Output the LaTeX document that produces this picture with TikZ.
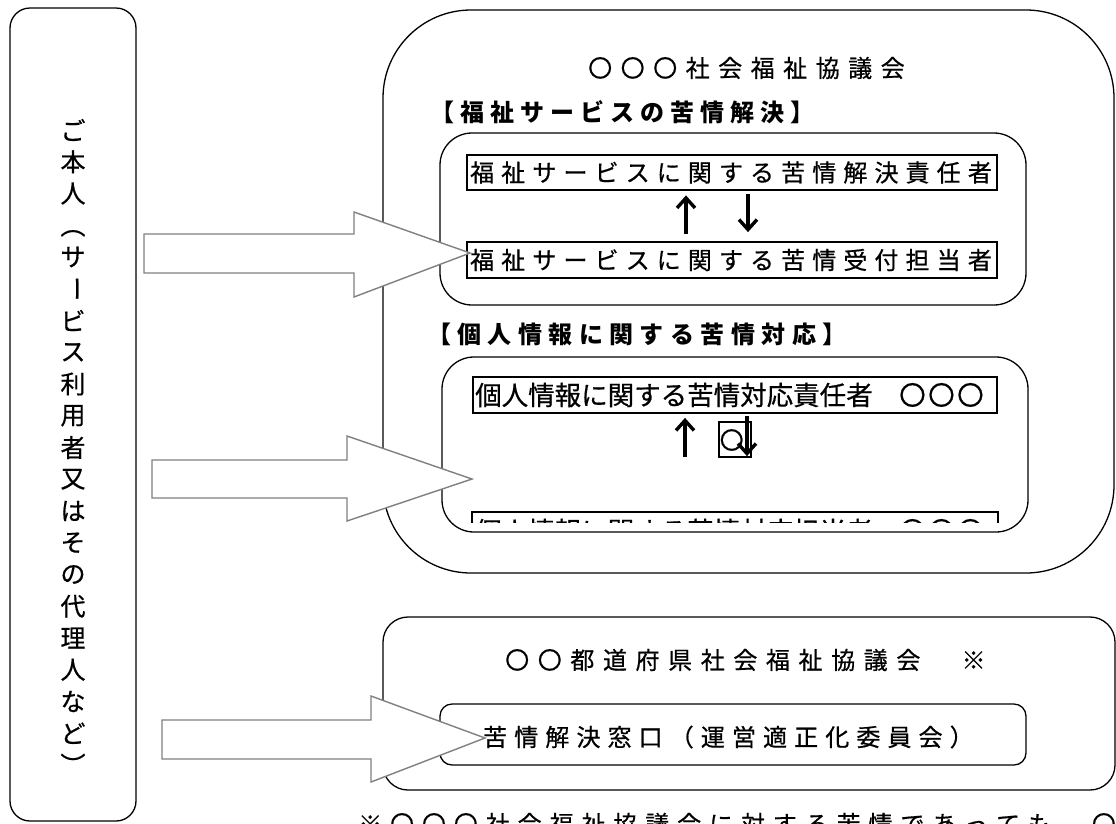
\documentclass[tikz,border=0pt]{standalone}
\usepackage{fontspec}
\usepackage{graphicx}
\usetikzlibrary{arrows.meta}
\newfontfamily\jp[FakeBold=0.6]{Noto Sans CJK JP}
\newfontfamily\jpb{Noto Sans CJK JP}
\definecolor{arrowgray}{RGB}{128,128,128}
\makeatletter
\newcommand\lsp[2]{\def\lsp@w{#1}\lsp@loop#2\@nil}
\def\lsp@loop#1{\ifx#1\@nil\else\makebox[\lsp@w][l]{#1}\expandafter\lsp@loop\fi}
\makeatother
\newcommand\jsz[1]{\jp\fontsize{#1}{#1}\selectfont}
\newcommand\jbsz[1]{\jpb\fontsize{#1}{#1}\selectfont\bfseries}
\begin{document}
\begin{tikzpicture}[x=1pt,y=-1pt,
  rbox/.style={draw, line width=1.3pt, inner sep=0pt},
  tbox/.style={draw, line width=1.8pt, inner sep=0pt},
  txt/.style={inner sep=0pt, anchor=west, text=black},
  vch/.style={inner sep=0pt, text=black},
  barrow/.style={draw=arrowgray, fill=white, line width=1.4pt, line join=miter},
  sarr/.style={line width=3.4pt, -{Straight Barb[length=10pt,width=18pt]}}
]
\useasboundingbox (0,0) rectangle (1116,823);
\fill[white] (0,0) rectangle (1116,823);

% left box
\node[rbox, rounded corners=20pt, minimum width=126pt, minimum height=813pt] (person) at (73,414.5) {};
\foreach \c/\r [count=\i from 0] in {ご/0,本/0,人/0,（/-90,サ/0,ー/-90,ビ/0,ス/0,利/0,用/0,者/0,又/0,は/0,そ/0,の/0,代/0,理/0,人/0,な/0,ど/0,）/-90}
  \node[vch, rotate=\r] (v\i) at (73,{130+31.75*\i}) {\jsz{25pt}\c};

% big box
\node[rbox, rounded corners=88pt, minimum width=731pt, minimum height=563pt] (big) at (748.5,291.5) {};
\node[rbox, rounded corners=32pt, minimum width=586pt, minimum height=172pt] (in1) at (733,219) {};
\node[rbox, rounded corners=32pt, minimum width=586pt, minimum height=175pt] (in2) at (735,444.5) {};
\node[tbox, minimum width=530pt, minimum height=35pt] (t1) at (732,172.5) {};
\node[tbox, minimum width=530pt, minimum height=36pt] (t2) at (732,260) {};
\node[tbox, minimum width=524pt, minimum height=36pt] (t3) at (735,395) {};
\node[tbox, line width=1.5pt, minimum width=32pt, minimum height=35pt] (small) at (735,439.5) {};
\begin{scope}
  \clip (440,500) rectangle (1010,522);
  \node[tbox, minimum width=526pt, minimum height=36pt] (t4) at (735,530) {};
  \node[txt] (l4) at (475,531) {\jsz{26.5pt}個人情報に関する苦情対応担当者　\lsp{29pt}{〇〇〇}};
\end{scope}

% prefecture box
\node[rbox, rounded corners=25pt, minimum width=732pt, minimum height=173pt] (pref) at (749,703.5) {};
\node[rbox, rounded corners=12pt, minimum width=586pt, minimum height=61pt] (window) at (733,734.5) {};

% block arrows
\draw[barrow] (144,234) -- (354,234) -- (354,212) -- (470,253) -- (354,297) -- (354,273) -- (144,273) -- cycle;
\draw[barrow] (152,460) -- (347,460) -- (347,436) -- (472,479) -- (347,521) -- (347,498) -- (152,498) -- cycle;
\draw[barrow] (162,720) -- (371,720) -- (371,696) -- (485,738) -- (371,782) -- (371,759) -- (162,759) -- cycle;

% texts
\node[txt] (title1) at (588,68) {\jsz{24pt}\lsp{32.5pt}{〇〇〇社会福祉協議会}};
\node[txt] (head1) at (430,112) {\jbsz{24pt}\lsp{30pt}{【福祉サービスの苦情解決】}};
\node[txt] (l1) at (470,172.5) {\jsz{24pt}\lsp{31.1pt}{福祉サービスに関する苦情解決責任者}};
\node[txt] (l2) at (470,260) {\jsz{24pt}\lsp{31.1pt}{福祉サービスに関する苦情受付担当者}};
\node[txt] (head2) at (427,334) {\jbsz{24pt}\lsp{30.4pt}{【個人情報に関する苦情対応】}};
\node[txt] (l3) at (475,395) {\jsz{26.5pt}個人情報に関する苦情対応責任者　\lsp{29pt}{〇〇〇}};
\node[txt] (circ) at (719.5,440) {\jsz{24pt}〇};
\node[txt] (title2) at (505,660) {\jsz{24pt}\lsp{32.6pt}{〇〇都道府県社会福祉協議会　※}};
\node[txt] (l5) at (483,737) {\jsz{24pt}\lsp{31.1pt}{苦情解決窓口（運営適正化委員会）}};
\node[txt] (foot) at (358,824) {\jsz{24pt}\lsp{31.9pt}{※〇〇〇社会福祉協議会に対する苦情であっても、〇}};

% small arrows
\draw[sarr, shorten <=7pt, shorten >=4.5pt] ([xshift=-46pt]t2.north) -- ([xshift=-46pt]t1.south);
\draw[sarr, shorten <=3pt, shorten >=9pt] ([xshift=16pt]t1.south) -- ([xshift=16pt]t2.north);
\draw[sarr, shorten <=54pt, shorten >=4pt] ([xshift=-50pt]t4.north) -- ([xshift=-50pt]t3.south);
\draw[sarr, shorten <=2pt, shorten >=55pt] ([xshift=12pt]t3.south) -- ([xshift=12pt]t4.north);
\end{tikzpicture}
\end{document}
